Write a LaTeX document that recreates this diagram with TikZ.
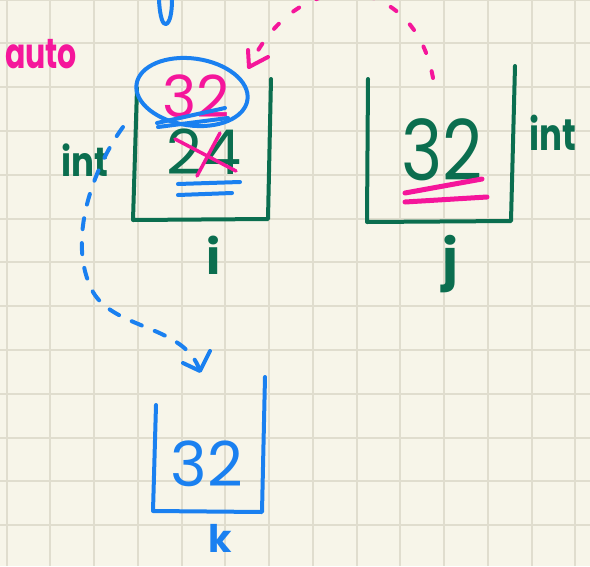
\documentclass[tikz,border=0pt]{standalone}
\usepackage{fontspec}
\setmainfont{Poppins}
\usetikzlibrary{calc,shapes.geometric}
\definecolor{paper}{HTML}{F7F5E9}
\definecolor{gridline}{HTML}{E0DDCE}
\definecolor{ink}{HTML}{0B6E4F}
\definecolor{pen}{HTML}{1A80F0}
\definecolor{marker}{HTML}{F5169B}
\tikzset{
  stroke/.style={line width=4pt, line cap=round, line join=round},
  greenbox/.style={stroke, draw=ink},
  bluebox/.style={stroke, draw=pen},
  hand/.style={inner sep=0pt, font=\fontsize{#1}{#1}\selectfont},
  label/.style={inner sep=0pt, font=\fontsize{#1}{#1}\selectfont\bfseries},
  bluedash/.style={stroke, draw=pen, dash pattern=on 11pt off 14pt},
  pinkdash/.style={stroke, draw=marker, dash pattern=on 7pt off 19pt},
}
\begin{document}
\begin{tikzpicture}[x=1pt, y=-1pt]
  % squared paper
  \fill[paper] (0,0) rectangle (590,566);
  \useasboundingbox (0,0) rectangle (590,566);
  \foreach \k in {0,...,13} {
    \draw[gridline, line width=2pt] (6.6+43.75*\k,0) -- (6.6+43.75*\k,566);
    \draw[gridline, line width=2pt] (0,-0.5+43.8*\k) -- (590,-0.5+43.8*\k);
  }

  % stray stroke at the top edge
  \draw[bluebox] (159,0) .. controls (160,18) and (163,25) .. (166,24)
                 .. controls (170,23) and (172,12) .. (172,0);

  % box i
  \draw[greenbox] (137,88) -- (133,220) -- (268,219) -- (271,79);
  \node[hand=62, text=ink] (v24) at (204,152) {24};
  \draw[stroke, marker, line width=3.5pt] (175,139) -- (236,171);
  \draw[stroke, marker, line width=3.5pt] (220,133) -- (197,176);
  \draw[bluebox] (178,184) -- (240,182);
  \draw[bluebox] (178,195) -- (232,193);
  \node[hand=58, text=marker] (v32i) at (196,96) {32};
  \draw[bluebox] (157,123) -- (225,108);
  \draw[bluebox] (158,127) -- (228,118);
  \node[bluebox, ellipse, minimum width=112pt, minimum height=67pt,
        rotate=-8, inner sep=0pt] (sel) at (192,92) {};
  \node[label=34, text=ink] (inti) at (85,160) {\scalebox{1}[1.2]{int}};
  \node[label=48, text=ink] (li) at (214,255) {i};

  % box j
  \draw[greenbox] (368,79) -- (367,222) -- (511,221) -- (515,66);
  \node[hand=70, text=ink] (v32j) at (442,150) {\scalebox{1}[1.2]{32}};
  \draw[stroke, marker, line width=5pt] (405,193) -- (482,179);
  \draw[stroke, marker, line width=5pt] (405,202) -- (487,197);
  \node[label=34, text=ink] (intj) at (553,133) {\scalebox{1}[1.3]{int}};
  \node[label=54, text=ink] (lj) at (450,264) {j};

  % box k
  \draw[bluebox] (156,405) -- (153,511) -- (262,512) -- (265,377);
  \node[hand=62, text=pen] (v32k) at (207,464) {32};
  \node[label=38, text=pen] (lk) at (220,538) {k};

  \node[label=30, text=marker] (auto) at (41,54) {\scalebox{1}[1.4]{auto}};

  % copy j into i
  \coordinate (pj) at (433,78);
  \coordinate (pi) at (249,67);
  \draw[pinkdash] (pj) .. controls (415,-25) and (300,-40) .. (pi);
  \draw[stroke, marker] ($(pi)+(-1,-17)$) -- (pi) -- ($(pi)+(19,-10)$);

  % auto k = i
  \coordinate (si) at (123,127);
  \coordinate (bend) at (93,292);
  \coordinate (pk) at (200,371);
  \draw[bluedash] (si) .. controls (95,165) and (65,240) .. (bend)
                  .. controls (115,330) and (185,325) .. (pk);
  \draw[bluebox] ($(pk)+(-17,-8)$) -- (pk) -- ($(pk)+(10,-20)$);
\end{tikzpicture}
\end{document}
